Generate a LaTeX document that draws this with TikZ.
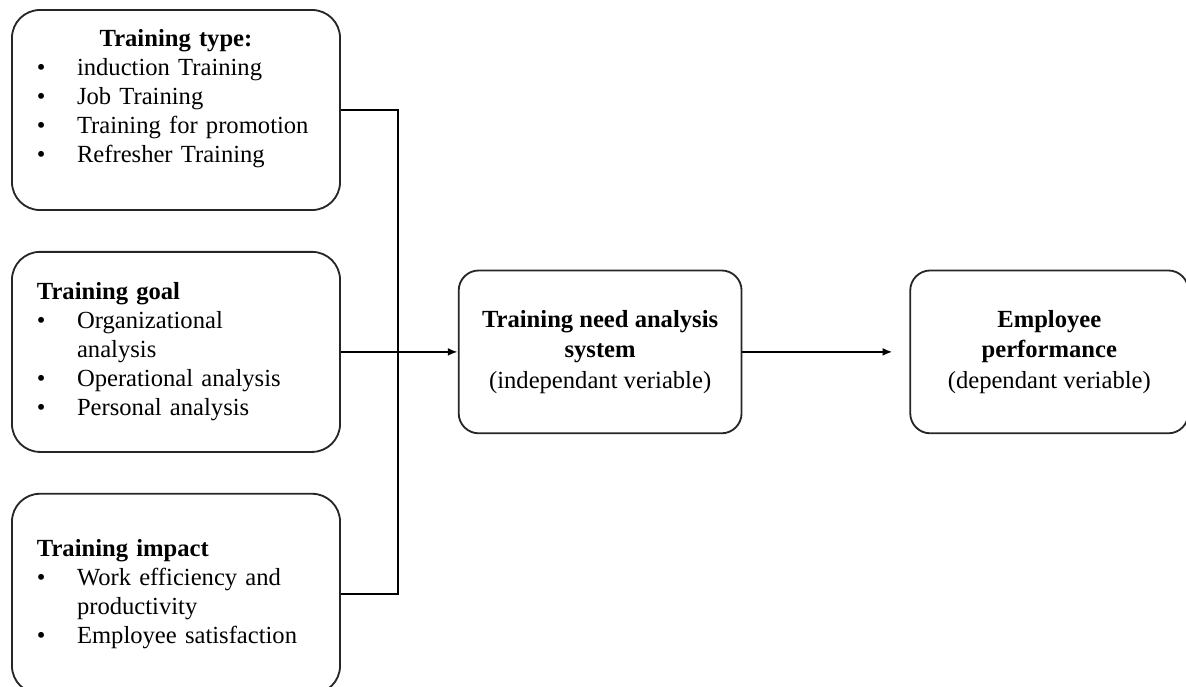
\documentclass[tikz,border=0pt]{standalone}
\usepackage{fontspec}
\setmainfont{Liberation Serif}
\usetikzlibrary{shapes,arrows,arrows.meta}
\usetikzlibrary{positioning}

\newcommand{\itm}{\makebox[28.5pt][l]{\textbullet}}
\newcommand{\cnt}{\hspace*{28.5pt}}

\begin{document}
\begin{tikzpicture}[x=0.025cm,y=-0.025cm,
	lbox/.style={draw=black!85,line width=1.3pt,rounded corners=0.7cm,minimum width=8.2cm,minimum height=5cm,text width=6.95cm,inner xsep=0.625cm,align=left,font=\fontsize{17.5}{20.6}\selectfont},
	rbox/.style={draw=black!85,line width=1.3pt,rounded corners=0.5cm,minimum height=4.07cm,align=center,font=\fontsize{17.5}{21.5}\selectfont},
	link/.style={line width=1.5pt}]
			\useasboundingbox (0,0) rectangle (1186,686);
			% left column
			\node[lbox] (type) at (176,110) {\makebox[6.95cm]{\textbf{Training type:}}\\ \itm induction Training\\ \itm Job Training\\ \itm Training for promotion\\ \itm Refresher Training\\[-7pt] \strut};
			\node[lbox, below=1cm of type] (goal) {\textbf{Training goal}\\ \itm Organizational\\ \cnt analysis\\ \itm Operational analysis\\ \itm Personal analysis};
			\node[lbox, below=1cm of goal] (impact) {\textbf{Training impact}\\ \itm Work efficiency and\\ \cnt productivity\\ \itm Employee satisfaction};
			
			\node[rbox, minimum width=7.07cm, right=2.92cm of goal] (tna) {\textbf{Training need analysis}\\ \textbf{system}\\ (independant veriable)};
			\node[rbox, minimum width=6.95cm, right=4.17cm of tna] (perf) {\textbf{Employee}\\ \textbf{performance}\\ (dependant veriable)};
			
			\coordinate (bus) at (398,350);
			\draw[link] (type.east) -| (bus) |- (impact.east);
			\draw[link,->,>={Latex[length=7pt,width=5.5pt]}] (goal) -- (tna);
			\draw[link,->,>={Latex[length=7pt,width=5.5pt]},shorten >=0.42cm] (tna) -- (perf);
			\end{tikzpicture}
\end{document}
